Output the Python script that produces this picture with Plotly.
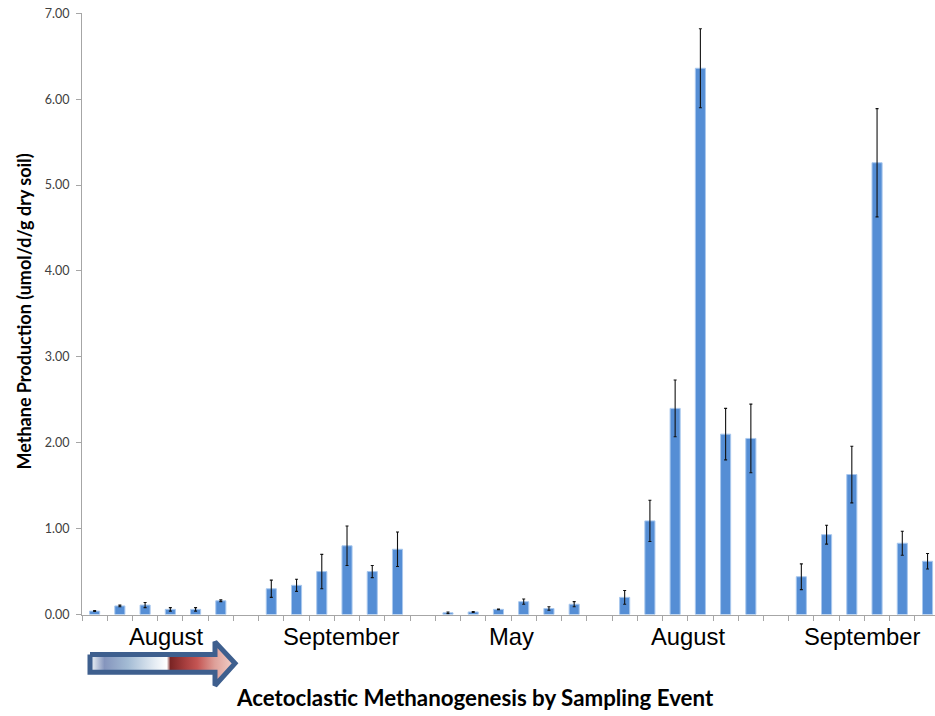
import plotly.graph_objects as go

# Sampling events (two seasons) and acetoclastic methane production per core
events = ["August", "September", "May", "August", "September"]

aug_1 = [0.04, 0.10, 0.11, 0.06, 0.06, 0.16]
aug_1_err = [0.005, 0.01, 0.03, 0.02, 0.02, 0.01]

sep_1 = [0.30, 0.34, 0.50, 0.80, 0.50, 0.76]
sep_1_err = [0.10, 0.07, 0.20, 0.23, 0.07, 0.20]

may_2 = [0.02, 0.03, 0.06, 0.15, 0.07, 0.12]
may_2_err = [0.01, 0.005, 0.005, 0.03, 0.02, 0.03]

aug_2 = [0.20, 1.09, 2.40, 6.36, 2.10, 2.05]
aug_2_err = [0.08, 0.24, 0.33, 0.46, 0.30, 0.40]

sep_2 = [0.44, 0.93, 1.63, 5.26, 0.83, 0.62]
sep_2_err = [0.15, 0.11, 0.33, 0.63, 0.14, 0.09]

y_ticks = [0, 1, 2, 3, 4, 5, 6, 7]

groups = [aug_1, sep_1, may_2, aug_2, sep_2]
group_errs = [aug_1_err, sep_1_err, may_2_err, aug_2_err, sep_2_err]

# One empty slot separates consecutive sampling events
slot = 7
x_pos, y_val, y_err = [], [], []
for g, (vals, errs) in enumerate(zip(groups, group_errs)):
    for i, (v, e) in enumerate(zip(vals, errs)):
        x_pos.append(g * slot + i)
        y_val.append(v)
        y_err.append(e)

n_slots = len(groups) * slot - 1

W, H = 935, 716
FONT_LABEL = "Lato, 'Open Sans', sans-serif"
FONT_MONTH = "'Liberation Sans', Arial, sans-serif"
AXIS_GREY = "#a6a6a6"

fig = go.Figure()

fig.add_trace(go.Bar(
    x=x_pos,
    y=y_val,
    marker=dict(color="#558ed5", line=dict(color="#a9c8ee", width=1)),
    error_y=dict(type="data", array=y_err, visible=True,
                 color="#111111", thickness=1.1, width=1.5),
    xaxis="x", yaxis="y",
    hoverinfo="x+y",
))

# Arrow indicating time direction, drawn in a pixel-space overlay
arrow_x = [90, 215, 215, 235, 215, 215, 90, 90]
arrow_y = [660.4, 660.4, 647.4, 669.4, 692.0, 678.4, 678.4, 660.4]
fig.add_trace(go.Scatter(
    x=arrow_x, y=arrow_y,
    mode="lines",
    fill="toself",
    fillgradient=dict(
        type="horizontal",
        colorscale=[
            [0.0, "#e4eaf2"], [0.03, "#d5dde9"], [0.10, "#8595bd"],
            [0.26, "#a3bbd4"], [0.45, "#e6edf4"], [0.53, "#ffffff"],
            [0.555, "#7a2424"], [0.66, "#a83f3f"], [0.74, "#c45553"],
            [0.86, "#dea099"], [1.0, "#f3d3cc"],
        ],
    ),
    line=dict(color="#3e5f8e", width=5),
    xaxis="x2", yaxis="y2",
    hoverinfo="skip",
))

x0_px, y_top_px, y_bot_px = 82, 5.4, 619.5
slot_px = 25.24
x_range_end = -0.5 + (W - x0_px) / slot_px

annotations = []
nudges = [8, 7, 0, 0, -2]
for g, name in enumerate(events):
    annotations.append(dict(
        x=g * slot + 2.5, y=(H - 641.8) / H,
        xref="x", yref="paper",
        text=name, showarrow=False, xshift=nudges[g],
        font=dict(family=FONT_MONTH, size=23.8, color="#000000"),
        xanchor="center", yanchor="middle",
    ))

annotations.append(dict(
    x=475 / W, y=(H - 704.5) / H, xref="paper", yref="paper",
    text="<b>Acetoclastic Methanogenesis by Sampling Event</b>",
    showarrow=False,
    font=dict(family=FONT_LABEL, size=22.3, color="#000000"),
    xanchor="center", yanchor="middle",
))
annotations.append(dict(
    x=24 / W, y=(H - 310) / H, xref="paper", yref="paper",
    text="<b>Methane Production (umol/d/g dry soil)</b>",
    showarrow=False, textangle=-90,
    font=dict(family=FONT_LABEL, size=18, color="#000000"),
    xanchor="center", yanchor="middle",
))

fig.update_layout(
    width=W, height=H,
    margin=dict(l=0, r=0, t=0, b=0),
    paper_bgcolor="#ffffff",
    plot_bgcolor="rgba(0,0,0,0)",
    showlegend=False,
    bargap=0.6,
    annotations=annotations,
    xaxis=dict(
        domain=[x0_px / W, 1],
        anchor="y",
        range=[-0.5, x_range_end],
        showgrid=False, zeroline=False,
        showline=True, linecolor=AXIS_GREY, linewidth=1,
        ticks="outside", ticklen=5, tickcolor=AXIS_GREY, tickwidth=1,
        tickvals=[k - 0.5 for k in range(n_slots + 1)],
        showticklabels=False,
    ),
    yaxis=dict(
        domain=[(H - y_bot_px) / H, (H - y_top_px) / H],
        anchor="x",
        range=[0, 7],
        showgrid=False, zeroline=False,
        showline=True, linecolor=AXIS_GREY, linewidth=1,
        ticks="outside", ticklen=5, tickcolor=AXIS_GREY, tickwidth=1,
        tickvals=y_ticks, tickformat=".2f",
        ticklabelstandoff=4,
        ticklabeloverflow="allow",
        tickfont=dict(family=FONT_LABEL, size=12.5, color="#404040"),
    ),
    xaxis2=dict(domain=[0, 1], anchor="y2", range=[0, W], visible=False,
                fixedrange=True),
    yaxis2=dict(domain=[0, 1], anchor="x2", range=[H, 0], visible=False,
                fixedrange=True),
)

fig.write_html("out.html")
